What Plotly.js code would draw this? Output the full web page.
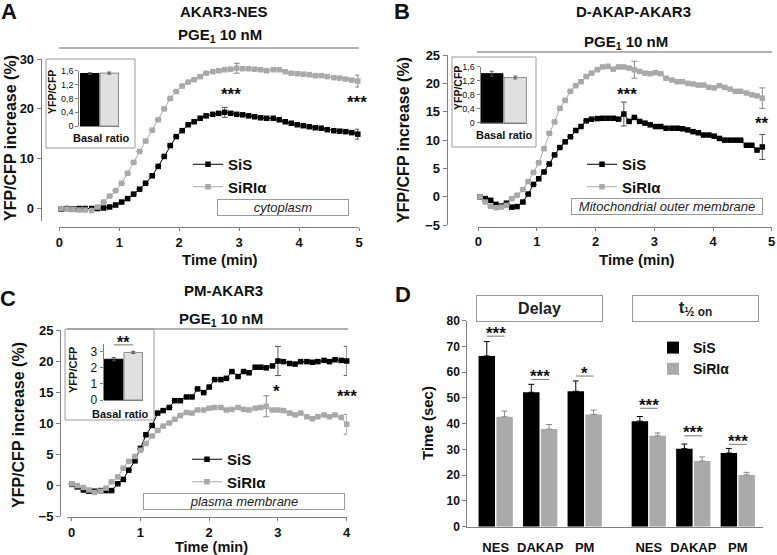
<!DOCTYPE html>
<html><head><meta charset="utf-8">
<script src="https://cdn.plot.ly/plotly-3.0.1.min.js"></script>
<style>html,body{margin:0;padding:0;background:#fff}#chart{width:777px;height:555px}</style>
</head><body><div id="chart"></div>
<script>
// ---------- DATA ----------
const seriesNames = ['SiS', 'SiRIα'];
// Panel A: AKAR3-NES
const tA = [0.03,0.13,0.23,0.33,0.43,0.54,0.64,0.74,0.84,0.94,1.04,1.14,1.24,1.34,1.44,1.55,1.65,1.75,1.85,1.95,2.05,2.15,2.25,2.35,2.45,2.56,2.66,2.76,2.86,2.96,3.06,3.16,3.26,3.36,3.46,3.57,3.67,3.77,3.87,3.97,4.07,4.17,4.27,4.37,4.47,4.58,4.68,4.78,4.88,4.98];
const sisA = [-0.2,-0.1,-0.2,-0.1,-0.1,-0.1,-0.1,0.0,0.2,0.6,1.2,1.9,2.8,3.8,5.0,6.5,8.4,10.4,12.6,14.4,15.6,16.8,17.4,18.1,18.6,18.9,19.1,19.3,19.1,18.9,18.8,18.6,18.4,18.2,18.1,18.1,17.8,17.4,17.1,16.8,16.6,16.4,16.2,16.1,15.8,15.6,15.5,15.4,15.2,14.9];
const siA = [-0.1,-0.2,-0.3,-0.4,-0.4,-0.5,0.2,1.2,2.4,3.5,5.0,7.0,9.2,11.4,13.5,15.7,17.8,20.0,22.1,23.5,24.6,25.4,25.9,26.5,27.2,27.5,27.7,27.9,28.0,28.2,28.1,28.1,28.0,27.9,27.7,27.9,27.9,27.5,27.2,27.1,27.0,26.9,26.7,26.7,26.5,26.3,26.2,26.0,25.8,25.6];
const sisAErrIdx = [27, 49], sisAErr = [1.0, 1.0];
const siAErrIdx = [29, 49], siAErr = [1.0, 1.2];
const basalA = [1.52, 1.53], basalAErr = [0.02, 0.03];

// Panel B: D-AKAP-AKAR3
const tB = [0.03,0.12,0.21,0.30,0.39,0.48,0.57,0.66,0.76,0.85,0.94,1.03,1.12,1.21,1.30,1.39,1.48,1.57,1.66,1.75,1.84,1.93,2.03,2.12,2.21,2.30,2.39,2.48,2.57,2.66,2.75,2.84,2.93,3.02,3.11,3.20,3.30,3.39,3.48,3.57,3.66,3.75,3.84,3.93,4.02,4.11,4.20,4.29,4.38,4.47,4.57,4.66,4.75,4.84];
const sisB = [0.0,-0.3,-0.6,-1.3,-1.6,-1.1,-1.8,-1.7,-0.9,0.5,2.2,3.2,4.4,5.8,7.4,8.7,9.7,10.6,11.7,12.4,13.4,13.7,13.8,13.85,13.85,13.85,13.7,14.6,13.3,14.0,13.3,13.0,12.7,12.4,12.4,12.1,12.1,12.1,12.0,11.8,11.5,11.3,10.9,10.9,10.7,10.3,10.0,10.0,10.0,10.0,9.1,9.1,8.25,8.8];
const siB = [0.0,-0.9,-1.65,-1.9,-1.8,-1.5,-0.3,0.3,1.3,2.7,4.3,6.0,8.5,11.2,13.2,15.6,17.0,18.6,19.6,20.3,21.2,21.8,22.4,22.9,23.0,22.5,22.9,22.9,22.7,22.4,22.1,21.8,21.7,21.9,21.7,20.9,20.6,20.3,20.3,20.0,19.9,19.7,19.7,19.3,19.2,19.6,19.3,19.0,18.6,18.6,18.3,18.0,17.8,17.4];
const sisBErrIdx = [27, 53], sisBErr = [2.1, 2.2];
const siBErrIdx = [29, 53], siBErr = [1.5, 1.8];
const basalB = [1.40, 1.29], basalBErr = [0.07, 0.04];

// Panel C: PM-AKAR3
const tC = [0,0.08,0.17,0.25,0.33,0.42,0.5,0.58,0.67,0.75,0.83,0.92,1,1.08,1.17,1.25,1.33,1.42,1.5,1.58,1.67,1.75,1.83,1.92,2,2.08,2.17,2.25,2.33,2.42,2.5,2.58,2.67,2.75,2.83,2.92,3,3.08,3.17,3.25,3.33,3.42,3.5,3.58,3.67,3.75,3.83,3.92,4];
const sisC = [0.1,-0.3,-0.8,-1.0,-1.0,-0.9,-0.9,-0.9,0.2,0.9,2.4,3.9,5.9,8.1,9.6,11.6,12.0,12.5,13.6,13.6,14.2,14.2,15.5,14.9,15.8,17.0,17.0,17.2,18.3,17.5,18.3,18.1,19.0,19.0,18.9,19.2,20.0,19.9,19.6,19.5,19.9,19.9,19.8,19.9,20.1,19.9,20.2,20.1,20.0];
const siC = [0.2,-0.1,-0.4,-0.8,-1.2,-1.0,-0.5,0.5,1.3,2.7,3.8,4.6,5.6,6.7,7.9,8.8,9.5,10.0,10.6,11.2,11.7,11.6,12.1,12.1,12.4,12.5,12.5,12.1,12.2,12.5,12.2,12.1,12.4,12.5,12.7,12.1,12.1,12.0,11.6,11.3,11.6,11.0,10.7,11.0,11.3,11.0,11.3,10.9,9.8];
const sisCErrIdx = [36, 48], sisCErr = [2.35, 2.35];
const siCErrIdx = [34, 48], siCErr = [1.7, 1.6];
const basalC = [2.53, 2.95], basalCErr = [0.10, 0.07];

// Panel D: Delay and t1/2 on (sec)
const dCats = ['NES','DAKAP','PM','NES','DAKAP','PM'];
const dSiS = [66.3, 52.2, 52.6, 41.0, 30.3, 28.6];
const dSiSErr = [5.6, 3.1, 4.0, 1.8, 1.8, 1.8];
const dSiR = [42.7, 37.9, 43.6, 35.3, 25.5, 20.1];
const dSiRErr = [2.2, 1.8, 1.7, 1.1, 1.6, 1.0];
const dSig = ['***','***','*','***','***','***'];

// ---------- LAYOUT HELPERS ----------
const W = 777, H = 555;
const X = p => p / W, Y = p => 1 - p / H;
const FONT = 'Liberation Sans, Arial, sans-serif';
const BLACK = '#000000', GRAY = '#a9a9a9', LGRAY = '#e0e0e0', AX = '#808080';
const dX = [0, 1, 2, 3.44, 4.44, 5.44];          // bar group positions (layout)
const dSigLineY = [74.0, 57.2, 58.5, 46.0, 35.3, 32.0];

function errArr(n, idx, vals) { const a = new Array(n).fill(null); idx.forEach((k, j) => a[k] = vals[j]); return a; }

function curve(t, y, name, color, errIdx, errV, xa, ya, lg, errColor) {
  return { type: 'scatter', mode: 'lines+markers', x: t, y: y, name: name,
    xaxis: xa, yaxis: ya, legend: lg, cliponaxis: false,
    marker: { symbol: 'square', size: 5.5, color: color },
    line: { color: color, width: 1 },
    error_y: { type: 'data', array: errArr(t.length, errIdx, errV), visible: true, color: errColor, thickness: 1, width: 3 } };
}
function inset(vals, errs, xa, ya) {
  return { type: 'bar', x: [0, 1], y: vals, xaxis: xa, yaxis: ya, width: 0.95, showlegend: false,
    marker: { color: [BLACK, LGRAY], line: { color: [BLACK, '#8c8c8c'], width: 1 } },
    error_y: { type: 'data', array: errs, visible: true, color: '#555', thickness: 1, width: 2 } };
}

const traces = [
  curve(tA, sisA, seriesNames[0], BLACK, sisAErrIdx, sisAErr, 'x', 'y', 'legend', '#555'),
  curve(tA, siA, seriesNames[1], GRAY, siAErrIdx, siAErr, 'x', 'y', 'legend', '#888'),
  inset(basalA, basalAErr, 'x2', 'y2'),
  curve(tB, sisB, seriesNames[0], BLACK, sisBErrIdx, sisBErr, 'x3', 'y3', 'legend2', '#555'),
  curve(tB, siB, seriesNames[1], GRAY, siBErrIdx, siBErr, 'x3', 'y3', 'legend2', '#888'),
  inset(basalB, basalBErr, 'x4', 'y4'),
  curve(tC, sisC, seriesNames[0], BLACK, sisCErrIdx, sisCErr, 'x5', 'y5', 'legend3', '#555'),
  curve(tC, siC, seriesNames[1], GRAY, siCErrIdx, siCErr, 'x5', 'y5', 'legend3', '#888'),
  inset(basalC, basalCErr, 'x6', 'y6'),
  { type: 'bar', x: dX, y: dSiS, name: seriesNames[0], xaxis: 'x7', yaxis: 'y7', legend: 'legend4',
    width: 0.37, offset: -0.385, marker: { color: BLACK },
    error_y: { type: 'data', symmetric: false, array: dSiSErr, arrayminus: dSiSErr.map(() => 0), color: '#000', thickness: 1, width: 3 } },
  { type: 'bar', x: dX, y: dSiR, name: seriesNames[1], xaxis: 'x7', yaxis: 'y7', legend: 'legend4',
    width: 0.37, offset: 0.015, marker: { color: '#aaaaaa' },
    error_y: { type: 'data', symmetric: false, array: dSiRErr, arrayminus: dSiRErr.map(() => 0), color: '#888', thickness: 1, width: 3 } }
];

const tickF = { family: FONT, size: 13, color: '#111', weight: 'bold' };
const base = { showgrid: false, zeroline: false, showline: true, linecolor: AX, linewidth: 1,
  ticks: 'outside', ticklen: 4, tickwidth: 1, tickcolor: AX, tickfont: tickF, fixedrange: true };
const baseX = { ...base, ticklen: 3 };
const insetY = { ...base, ticklen: 3, tickfont: { family: FONT, size: 9, color: '#111' } };
const insetX = { showgrid: false, zeroline: false, showline: true, linecolor: AX, ticks: '', showticklabels: false, range: [-0.5, 1.5], fixedrange: true };
const commaTicks = { tickvals: [0, 0.4, 0.8, 1.2, 1.6], ticktext: ['0', '0,4', '0,8', '1,2', '1,6'] };

const legendBase = { font: { family: FONT, size: 15, color: '#111', weight: 'bold' }, bgcolor: 'rgba(0,0,0,0)',
  xanchor: 'left', yanchor: 'top', itemwidth: 30, tracegroupgap: 0, itemclick: false, itemdoubleclick: false };

function ann(text, px, py, size, opts) {
  return Object.assign({ text: text, xref: 'paper', yref: 'paper', x: X(px), y: Y(py), showarrow: false,
    xanchor: 'center', yanchor: 'middle', font: { family: FONT, size: size, color: '#111', weight: 'bold' } }, opts || {});
}
function boxAnn(text, cx, cy, w, h, size, italic) {
  return ann(text, cx, cy, size, { bordercolor: '#9a9a9a', borderwidth: 1, borderpad: 0, width: w, height: h, bgcolor: '#fff',
    font: { family: FONT, size: size, color: '#222', weight: italic ? 'normal' : 'bold', style: italic ? 'italic' : 'normal' } });
}
function stars(text, px, py) { return ann(text, px, py + 4, 17); }

const annotations = [
  ann('A', 9, 11, 22), ann('B', 402, 11, 22), ann('C', 8, 298, 22), ann('D', 403, 294, 22),
  ann('AKAR3-NES', 224, 11, 15), ann('D-AKAP-AKAR3', 633, 11, 15), ann('PM-AKAR3', 223, 290, 15),
  ann('PGE<sub>1</sub> 10 nM', 220, 35, 15), ann('PGE<sub>1</sub> 10 nM', 626, 42, 15), ann('PGE<sub>1</sub> 10 nM', 221, 319, 15),
  stars('***', 231, 90), stars('***', 357, 98),
  stars('***', 627, 90), stars('**', 762, 120),
  stars('*', 276, 387), stars('***', 347, 392),
  ann('Time (min)', 220, 259, 15), ann('Time (min)', 637, 259, 15), ann('Time (min)', 212, 547, 14.5),
  ann('YFP/CFP increase (%)', 10, 138, 16, { textangle: -90 }),
  ann('YFP/CFP increase (%)', 403, 140, 16, { textangle: -90 }),
  ann('YFP/CFP increase (%)', 18, 425, 16, { textangle: -90 }),
  boxAnn('cytoplasm', 283, 208, 130, 15, 13, true),
  boxAnn('Mitochondrial outer membrane', 667, 207, 190, 15, 13, true),
  boxAnn('plasma membrane', 244, 501, 200, 15, 13, true),
  ann('Basal ratio', 101, 138, 11), ann('Basal ratio', 505, 135, 11), ann('Basal ratio', 120, 414, 11),
  ann('YFP/CFP', 52, 92, 10.5, { textangle: -90 }), ann('YFP/CFP', 458, 88, 10.5, { textangle: -90 }), ann('YFP/CFP', 73, 370, 11, { textangle: -90 }),
  { text: '**', xref: 'x6', yref: 'y6', x: 0.5, y: 3.42, yshift: 2, showarrow: false, xanchor: 'center', yanchor: 'middle',
    font: { family: FONT, size: 16, color: '#111', weight: 'bold' } },
  boxAnn('Delay', 539, 308, 125, 25, 16, false),
  boxAnn('t<sub>½ on</sub>', 695, 308, 125, 25, 17, false),
  ann('Time (sec)', 427, 423, 15, { textangle: -90 })
];
dSig.forEach((s, i) => annotations.push({ text: s, xref: 'x7', yref: 'y7', x: dX[i], y: dSigLineY[i], yshift: 3,
  showarrow: false, xanchor: 'center', yanchor: 'middle', font: { family: FONT, size: 17, color: '#111', weight: 'bold' } }));

const shapes = [
  { type: 'rect', xref: 'paper', yref: 'paper', x0: X(46), x1: X(135), y0: Y(148), y1: Y(59), line: { color: '#9a9a9a', width: 1 }, fillcolor: '#fff', layer: 'below' },
  { type: 'rect', xref: 'paper', yref: 'paper', x0: X(452), x1: X(536), y0: Y(147), y1: Y(57), line: { color: '#9a9a9a', width: 1 }, fillcolor: '#fff', layer: 'below' },
  { type: 'rect', xref: 'paper', yref: 'paper', x0: X(65), x1: X(154), y0: Y(420), y1: Y(329), line: { color: '#9a9a9a', width: 1 }, fillcolor: '#fff', layer: 'below' },
  { type: 'line', xref: 'paper', yref: 'paper', x0: X(59), x1: X(359), y0: Y(48), y1: Y(48), line: { color: '#999', width: 1.5 } },
  { type: 'line', xref: 'paper', yref: 'paper', x0: X(477), x1: X(772), y0: Y(52), y1: Y(52), line: { color: '#999', width: 1.5 } },
  { type: 'line', xref: 'paper', yref: 'paper', x0: X(67), x1: X(348), y0: Y(329), y1: Y(329), line: { color: '#999', width: 1.5 } },
  { type: 'line', xref: 'x6', yref: 'y6', x0: 0, x1: 1, y0: 3.42, y1: 3.42, line: { color: '#777', width: 1 } }
];
dSigLineY.forEach((v, i) => shapes.push({ type: 'line', xref: 'x7', yref: 'y7', x0: dX[i] - 0.2, x1: dX[i] + 0.2, y0: v, y1: v, line: { color: '#777', width: 1 } }));

const layout = {
  width: W, height: H, margin: { l: 0, r: 0, t: 0, b: 0 }, paper_bgcolor: '#fff', plot_bgcolor: 'rgba(0,0,0,0)',
  font: { family: FONT, color: '#111' },
  xaxis:  { ...baseX, domain: [X(59.3), X(359)], range: [0, 5], anchor: 'free', position: Y(227), tickvals: [0, 1, 2, 3, 4, 5] },
  yaxis:  { ...base, domain: [Y(221), Y(59.3)], range: [-2.62, 30], anchor: 'free', position: X(40.7), tickvals: [0, 10, 20, 30] },
  xaxis2: { ...insetX, domain: [X(80), X(119)], anchor: 'y2' },
  yaxis2: { ...insetY, ...commaTicks, domain: [Y(126), Y(70.7)], range: [0, 1.6], anchor: 'free', position: X(78.3) },
  xaxis3: { ...baseX, domain: [X(478.3), X(771.7)], range: [0, 5], anchor: 'free', position: Y(226.7), tickvals: [0, 1, 2, 3, 4, 5] },
  yaxis3: { ...base, domain: [Y(225.3), Y(55)], range: [-5, 25], anchor: 'free', position: X(446.7), tickvals: [-5, 0, 5, 10, 15, 20, 25] },
  xaxis4: { ...insetX, domain: [X(480), X(527)], anchor: 'y4' },
  yaxis4: { ...insetY, ...commaTicks, domain: [Y(122.7), Y(66.7)], range: [0, 1.6], anchor: 'free', position: X(479.5) },
  xaxis5: { ...baseX, domain: [X(66.7), X(346.7)], range: [-0.073, 4], anchor: 'free', position: Y(517.3), tickvals: [0, 1, 2, 3, 4] },
  yaxis5: { ...base, domain: [Y(516), Y(330)], range: [-5, 25], anchor: 'free', position: X(60), tickvals: [-5, 0, 5, 10, 15, 20, 25] },
  xaxis6: { ...insetX, domain: [X(104), X(143)], anchor: 'y6' },
  yaxis6: { ...insetY, tickfont: { family: FONT, size: 12, color: '#111' }, domain: [Y(400), Y(343.6)], range: [0, 3.5], anchor: 'free', position: X(102.7), tickvals: [0, 1, 2, 3] },
  xaxis7: { ...base, domain: [X(467.3), X(763)], range: [-0.638, 6.007], anchor: 'y7', tickvals: dX, ticktext: dCats,
            ticklen: 9, tickcolor: 'rgba(0,0,0,0)', tickfont: { ...tickF, size: 13 } },
  yaxis7: { ...base, domain: [Y(526.7), Y(320.7)], range: [0, 80], anchor: 'x7', dtick: 10, tickfont: { ...tickF, size: 12 } },
  legend:  { ...legendBase, x: X(188), y: Y(148) },
  legend2: { ...legendBase, x: X(582), y: Y(148) },
  legend3: { ...legendBase, x: X(187), y: Y(443) },
  legend4: { ...legendBase, font: { ...legendBase.font, size: 14 }, x: X(653), y: Y(332) },
  annotations: annotations, shapes: shapes, showlegend: true
};

Plotly.newPlot('chart', traces, layout, { staticPlot: true, displayModeBar: false });
</script></body></html>
